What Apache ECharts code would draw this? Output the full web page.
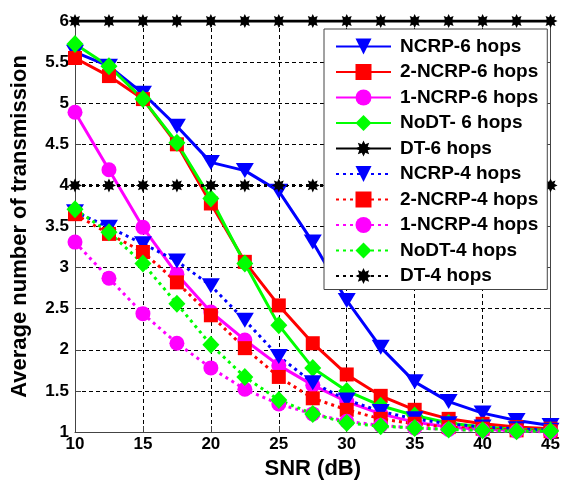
<!DOCTYPE html>
<html>
<head>
<meta charset="utf-8">
<script src="https://cdn.jsdelivr.net/npm/echarts@6/dist/echarts.min.js"></script>
<style>
  html, body { margin: 0; padding: 0; background: #fff; }
  #chart { width: 563px; height: 485px; }
</style>
</head>
<body>
<div id="chart"></div>
<script>
const snr = [10, 12.5, 15, 17.5, 20, 22.5, 25, 27.5, 30, 32.5, 35, 37.5, 40, 42.5, 45]

const ncrp6 = [5.62, 5.45, 5.12, 4.72, 4.28, 4.18, 3.93, 3.31, 2.60, 2.03, 1.61, 1.37, 1.23, 1.14, 1.08]
const ncrp2of6 = [5.55, 5.33, 5.05, 4.50, 3.78, 3.07, 2.54, 2.08, 1.70, 1.44, 1.27, 1.16, 1.10, 1.06, 1.04]
const ncrp1of6 = [4.89, 4.19, 3.49, 2.92, 2.46, 2.12, 1.81, 1.57, 1.37, 1.22, 1.12, 1.06, 1.03, 1.02, 1.01]
const nodt6 = [5.72, 5.45, 5.05, 4.52, 3.84, 3.05, 2.30, 1.78, 1.50, 1.32, 1.20, 1.11, 1.06, 1.03, 1.02]
const dt6 = [6, 6, 6, 6, 6, 6, 6, 6, 6, 6, 6, 6, 6, 6, 6]
const ncrp4 = [3.68, 3.49, 3.29, 3.08, 2.78, 2.36, 1.92, 1.60, 1.39, 1.25, 1.16, 1.10, 1.06, 1.04, 1.02]
const ncrp2of4 = [3.65, 3.41, 3.19, 2.82, 2.42, 2.02, 1.67, 1.41, 1.27, 1.16, 1.10, 1.06, 1.04, 1.02, 1.01]
const ncrp1of4 = [3.31, 2.87, 2.44, 2.08, 1.78, 1.52, 1.34, 1.22, 1.13, 1.08, 1.05, 1.03, 1.02, 1.01, 1.00]
const nodt4 = [3.71, 3.43, 3.05, 2.56, 2.06, 1.67, 1.39, 1.22, 1.11, 1.07, 1.05, 1.03, 1.02, 1.01, 1.01]
const dt4 = [4, 4, 4, 4, 4, 4, 4, 4, 4, 4, 4, 4, 4, 4, 4]

const FONT = 'Liberation Sans, Arial, sans-serif'
// matlab style '*' marker, drawn as a filled 8 point star
const STAR = 'path://M10 0L5.3 2.2L7.07 7.07L2.2 5.3L0 10L-2.2 5.3L-7.07 7.07L-5.3 2.2L-10 0L-5.3 -2.2L-7.07 -7.07L-2.2 -5.3L0 -10L2.2 -5.3L7.07 -7.07L5.3 -2.2Z'

const markers = {
  tri: { symbol: 'triangle', symbolRotate: 180, symbolSize: [18, 15] },
  sq: { symbol: 'rect', symbolSize: 14 },
  circ: { symbol: 'circle', symbolSize: 15 },
  dia: { symbol: 'diamond', symbolSize: [17, 18] },
  star: { symbol: STAR, symbolSize: 14 }
}

function pairs (ys) {
  return snr.map((x, i) => [x, ys[i]])
}

function mk (name, ys, color, marker, dotted) {
  return Object.assign({
    name,
    type: 'line',
    data: pairs(ys),
    showAllSymbol: true,
    color,
    itemStyle: { color },
    lineStyle: { color, width: 3, type: dotted ? [3, 4] : 'solid' },
    animation: false
  }, markers[marker])
}

const series = [
  mk('NCRP-6 hops', ncrp6, '#0000ff', 'tri', false),
  mk('2-NCRP-6 hops', ncrp2of6, '#ff0000', 'sq', false),
  mk('1-NCRP-6 hops', ncrp1of6, '#ff00ff', 'circ', false),
  mk('NoDT- 6 hops', nodt6, '#00ff00', 'dia', false),
  mk('DT-6 hops', dt6, '#000000', 'star', false),
  mk('NCRP-4 hops', ncrp4, '#0000ff', 'tri', true),
  mk('2-NCRP-4 hops', ncrp2of4, '#ff0000', 'sq', true),
  mk('1-NCRP-4 hops', ncrp1of4, '#ff00ff', 'circ', true),
  mk('NoDT-4 hops', nodt4, '#00ff00', 'dia', true),
  mk('DT-4 hops', dt4, '#000000', 'star', true)
]

const chart = echarts.init(document.getElementById('chart'), null, { renderer: 'canvas' })

const axisLabel = { color: '#000', fontFamily: FONT, fontWeight: 'bold', fontSize: 17 }
const nameStyle = { color: '#000', fontFamily: FONT, fontWeight: 'bold', fontSize: 22 }
const gridLine = { show: true, lineStyle: { color: '#000', width: 1, type: [4, 3] } }
const frameLine = { show: true, onZero: false, lineStyle: { color: '#444', width: 1 } }
const frameTick = { show: true, inside: true, length: 6, lineStyle: { color: '#444' } }

chart.setOption({
  backgroundColor: '#fff',
  animation: false,
  grid: { left: 75, right: 8, top: 21, bottom: 53, containLabel: false },
  legend: {
    orient: 'vertical',
    left: 324,
    top: 29,
    padding: [8, 9, 4, 11],
    backgroundColor: '#fff',
    borderColor: '#444',
    borderWidth: 1,
    itemWidth: 55,
    itemHeight: 20,
    itemGap: 6.5,
    textStyle: { color: '#000', fontFamily: FONT, fontWeight: 'bold', fontSize: 19, padding: [0, 0, 0, 4] },
    data: series.map(s => s.name)
  },
  xAxis: [
    {
      type: 'value',
      min: 10,
      max: 45,
      interval: 5,
      name: 'SNR (dB)',
      nameLocation: 'middle',
      nameGap: 26,
      nameTextStyle: nameStyle,
      axisLine: frameLine,
      axisTick: frameTick,
      axisLabel: Object.assign({ margin: 4 }, axisLabel),
      splitLine: gridLine
    },
    {
      type: 'value',
      position: 'top',
      min: 10,
      max: 45,
      interval: 5,
      axisLine: frameLine,
      axisTick: frameTick,
      axisLabel: { show: false },
      splitLine: { show: false }
    }
  ],
  yAxis: [
    {
      type: 'value',
      min: 1,
      max: 6,
      interval: 0.5,
      name: 'Average number of transmission',
      nameLocation: 'middle',
      nameGap: 44,
      nameTextStyle: nameStyle,
      axisLine: frameLine,
      axisTick: frameTick,
      axisLabel: Object.assign({ margin: 6 }, axisLabel),
      splitLine: gridLine
    },
    {
      type: 'value',
      position: 'right',
      min: 1,
      max: 6,
      interval: 0.5,
      axisLine: frameLine,
      axisTick: frameTick,
      axisLabel: { show: false },
      splitLine: { show: false }
    }
  ],
  series
})
</script>
</body>
</html>
